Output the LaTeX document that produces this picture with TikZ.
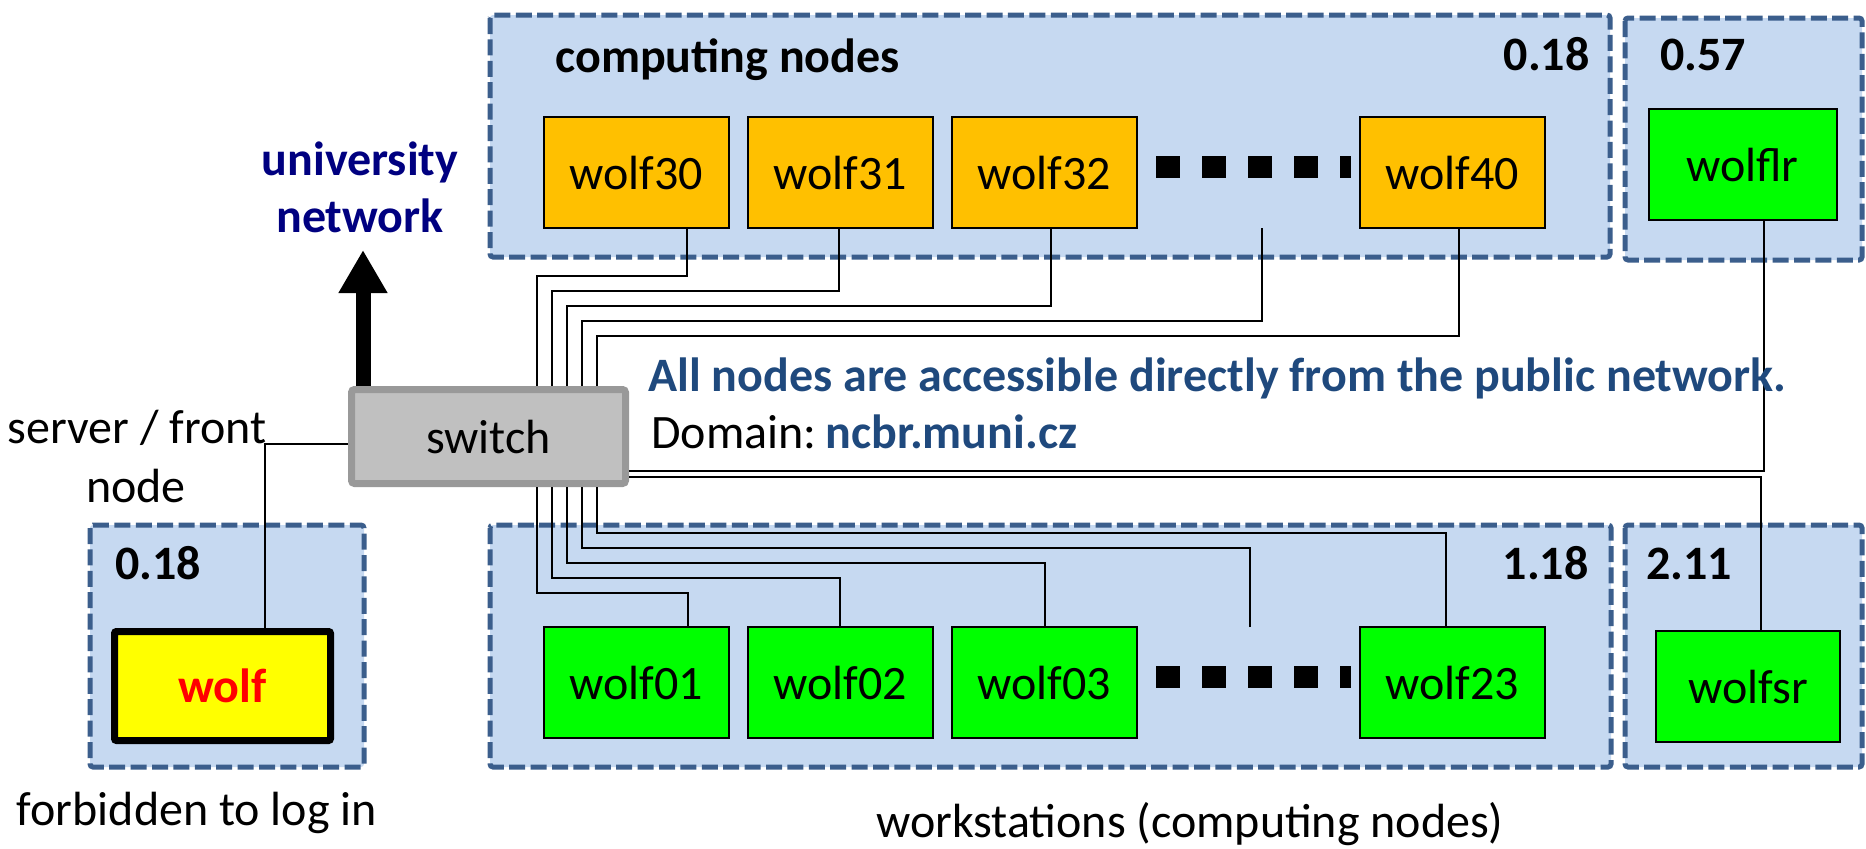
\documentclass[tikz,border=0pt]{standalone}
\usepackage{fontspec}
\setmainfont{Carlito}
\usetikzlibrary{arrows.meta}
\definecolor{boxfill}{HTML}{C6D9F1}
\definecolor{boxline}{HTML}{3B5E8C}
\definecolor{orng}{HTML}{FFC000}
\definecolor{grn}{HTML}{00FF00}
\definecolor{ylw}{HTML}{FFFF00}
\definecolor{txtblue}{HTML}{1F497D}
\definecolor{navyc}{HTML}{000080}
\definecolor{swfill}{HTML}{C0C0C0}
\definecolor{swline}{HTML}{999999}
\begin{document}
\begin{tikzpicture}[x=0.5pt,y=-0.5pt,
  grp/.style={draw=boxline, fill=boxfill, line width=2.5pt, dash pattern=on 8pt off 2.7pt, rounded corners=1.5pt},
  host/.style={draw=black, line width=1pt, minimum width=92.5pt, minimum height=55.5pt, inner sep=0pt, font=\fontsize{24}{28}\selectfont},
  orangehost/.style={host, fill=orng},
  greenhost/.style={host, fill=grn},
  lbl/.style={inner sep=0pt, font=\fontsize{24}{28}\selectfont},
  blbl/.style={inner sep=0pt, font=\fontsize{24}{28}\selectfont\bfseries},
  wire/.style={draw=black, line width=0.75pt},
  ellipsisbar/.style={line width=11pt, dash pattern=on 12pt off 11pt}
]
\useasboundingbox (0,0) rectangle (1866,848);

% group frames
\draw[grp] (490,15) rectangle (1610,257);
\draw[grp] (1625,18) rectangle (1862,260);
\draw[grp] (490,525) rectangle (1611,767);
\draw[grp] (1625,525) rectangle (1862,767);
\draw[grp] (90,525) rectangle (364,767);

% group labels
\node[blbl, anchor=base west] (lcomp) at (555,72) {computing nodes};
\node[blbl, anchor=base east] (ltop) at (1590,70) {0.18};
\node[blbl, anchor=base west] (llr) at (1660,70) {0.57};
\node[blbl, anchor=base east] (lbot) at (1589,579) {1.18};
\node[blbl, anchor=base west] (lsr) at (1646,579) {2.11};
\node[blbl, anchor=base west] (lleft) at (115,579) {0.18};

% hosts
\node[orangehost] (wolf30) at (636.5,172.5) {wolf30};
\node[orangehost] (wolf31) at (840.5,172.5) {wolf31};
\node[orangehost] (wolf32) at (1044.5,172.5) {wolf32};
\node[orangehost] (wolf40) at (1452.5,172.5) {wolf40};
\node[greenhost, minimum width=94pt] (wolflr) at (1742.5,164.5) {wolflr};
\node[greenhost] (wolf01) at (636.5,682.5) {wolf01};
\node[greenhost] (wolf02) at (840.5,682.5) {wolf02};
\node[greenhost] (wolf03) at (1044.5,682.5) {wolf03};
\node[greenhost] (wolf23) at (1452.5,682.5) {wolf23};
\node[greenhost, minimum width=92pt] (wolfsr) at (1748,686.5) {wolfsr};

\node[draw=black, line width=3.5pt, fill=ylw, minimum width=108pt, minimum height=54.5pt,
      rounded corners=1pt, inner sep=0pt, font=\fontsize{24}{28}\selectfont\bfseries, text=red]
      (wolf) at (222.5,686) {wolf};

\node[draw=swline, fill=swfill, line width=3.5pt, minimum width=137pt, minimum height=47pt,
      rounded corners=1.5pt, lbl] (sw) at (488.5,436.5) {switch};

% ellipsis bars
\draw[ellipsisbar] (1156,167) -- (1351,167);
\draw[ellipsisbar] (1156,677) -- (1351,677);
\coordinate (dotst) at (1262,228);
\coordinate (dotsb) at (1250,627);

% wires top
\draw[wire] (687,0 |- wolf30.south) |- (537,276) -- (537,0 |- sw.north);
\draw[wire] (839,0 |- wolf31.south) |- (552,291) -- (552,0 |- sw.north);
\draw[wire] (1051,0 |- wolf32.south) |- (567,306) -- (567,0 |- sw.north);
\draw[wire] (dotst) |- (582,321) -- (582,0 |- sw.north);
\draw[wire] (1459,0 |- wolf40.south) |- (597,336) -- (597,0 |- sw.north);
% wires bottom
\draw[wire] (688,0 |- wolf01.north) |- (537,593) -- (537,0 |- sw.south);
\draw[wire] (840,0 |- wolf02.north) |- (552,578) -- (552,0 |- sw.south);
\draw[wire] (1045,0 |- wolf03.north) |- (567,563) -- (567,0 |- sw.south);
\draw[wire] (dotsb) |- (582,548) -- (582,0 |- sw.south);
\draw[wire] (1446,0 |- wolf23.north) |- (597,533) -- (597,0 |- sw.south);
% wires right
\draw[wire] (1764,0 |- wolflr.south) -- (1764,471) -- (sw.east |- 0,471);
\draw[wire] (1761,0 |- wolfsr.north) -- (1761,477) -- (sw.east |- 0,477);
% wire left
\draw[wire] (265,0 |- wolf.north) |- (sw.west |- 0,444);

% uplink
\node[blbl, text=navyc, anchor=base] (uni1) at (360,175) {university};
\node[blbl, text=navyc, anchor=base] (uni2) at (360,232) {network};
\coordinate (net) at (363,250);
\draw[line width=7.5pt, -{Triangle[length=21.5pt 0 0, width=23pt 0 0]}] (363,0 |- sw.north) -- (net);

% texts
\node[lbl, anchor=base] (srv1) at (137,443) {server / front};
\node[lbl, anchor=base] (srv2) at (136,502) {node};
\node[lbl, anchor=base] (forb) at (197,825) {forbidden to log in};
\node[lbl, anchor=base east] (ws) at (1504,837) {workstations (computing nodes)};
\node[blbl, text=txtblue, anchor=base west] (acc) at (648,391) {All nodes are accessible directly from the public network.};
\node[lbl, anchor=base west] (dom) at (651,448) {Domain:\hspace{4.5pt}\textcolor{txtblue}{\bfseries ncbr.muni.cz}};
\end{tikzpicture}
\end{document}
